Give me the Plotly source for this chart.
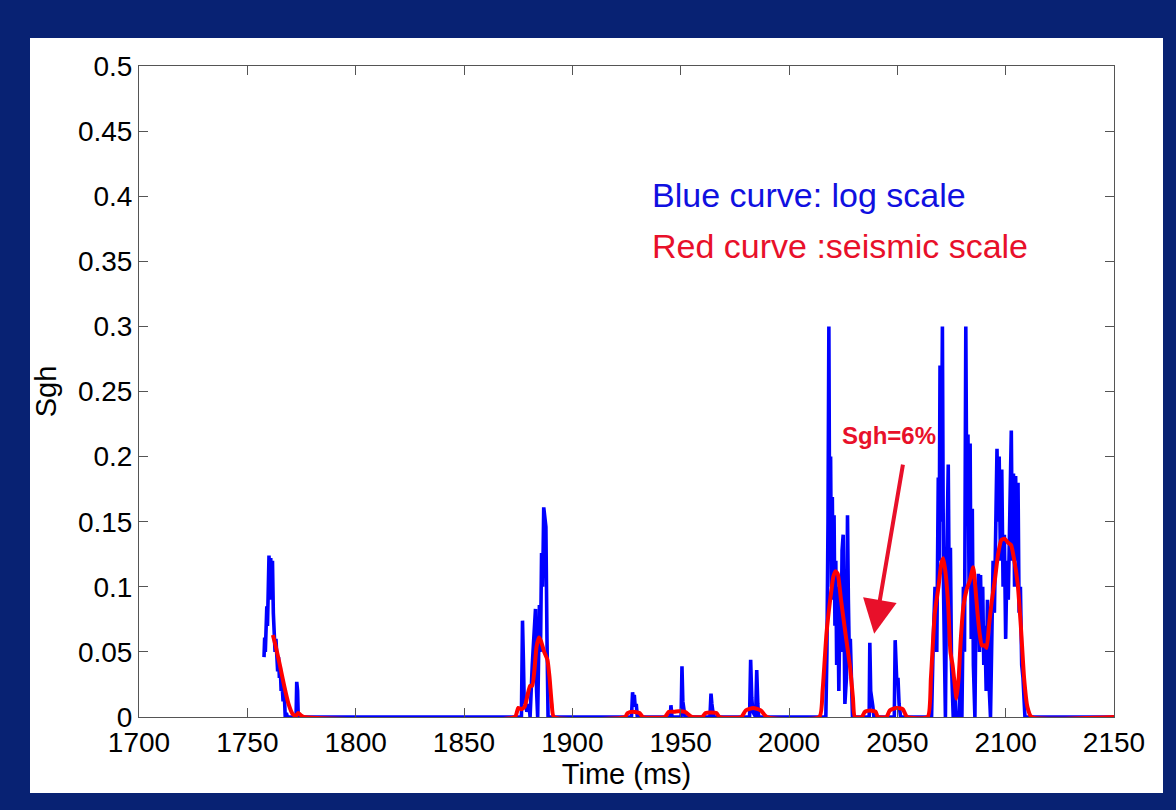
import plotly.graph_objects as go

# ---------------- data ----------------
blue_time = [
    1757.7, 1758.0, 1758.3, 1758.7, 1759.0, 1759.3, 1759.6, 1760.0, 1760.4, 1760.8,
    1761.2, 1761.6, 1762.0, 1762.4, 1762.8, 1763.2, 1763.6, 1764.0, 1764.4, 1764.8,
    1765.2, 1765.6, 1766.0, 1766.5, 1767.0, 1767.5, 1768.0, 1768.5, 1772.5, 1772.8,
    1773.2, 1773.5,
    1876.5, 1877.0, 1877.4, 1877.8, 1878.3, 1879.0, 1880.0, 1880.5, 1881.5, 1882.2,
    1883.0, 1883.5, 1884.0, 1884.8, 1885.3, 1885.8, 1886.3, 1886.8, 1887.3, 1887.8,
    1888.3, 1888.8,
    1927.3, 1927.8, 1928.2, 1928.6, 1929.0, 1929.5, 1930.0,
    1945.2, 1945.5, 1946.0, 1950.2, 1950.6, 1951.0, 1951.4, 1952.0,
    1963.5, 1964.0, 1964.4, 1964.8, 1965.2,
    1981.8, 1982.3, 1982.8, 1983.3, 1984.6, 1985.1, 1985.6, 1986.0,
    2017.0, 2017.5, 2018.0, 2018.4, 2018.8, 2019.2, 2019.6, 2020.0, 2020.4, 2020.8,
    2021.2, 2021.6, 2022.0, 2022.5, 2023.0, 2023.5, 2024.0, 2024.5, 2025.0, 2025.4,
    2025.8, 2026.5, 2027.0, 2027.4, 2027.8, 2028.3, 2028.8, 2029.3,
    2037.0, 2037.3, 2037.7, 2038.2, 2038.7, 2039.2,
    2048.6, 2049.0, 2049.4, 2049.8, 2050.3, 2050.8, 2051.5,
    2065.8, 2066.6, 2067.4, 2068.2, 2068.9, 2069.3, 2069.7, 2070.2, 2070.8, 2071.3,
    2071.8, 2072.2, 2072.8, 2073.5, 2074.0, 2074.5, 2075.0, 2075.8, 2076.5, 2077.0,
    2078.5, 2079.2, 2079.8, 2080.5, 2081.0, 2081.6, 2082.1, 2082.6, 2083.1, 2083.6,
    2084.1, 2084.6, 2085.1, 2085.8, 2086.4, 2086.9, 2087.4, 2087.9, 2088.4, 2088.9,
    2089.4, 2089.9, 2090.4, 2091.0, 2091.6, 2092.2, 2093.0, 2093.6, 2094.2, 2094.8,
    2095.4, 2096.0, 2096.5, 2097.0, 2097.6, 2098.2, 2098.8, 2099.4, 2100.0, 2100.6,
    2101.2, 2101.8, 2102.6, 2103.1, 2103.6, 2104.1, 2104.6, 2105.2, 2105.7, 2106.2,
    2106.8, 2107.4, 2108.0, 2108.9, 2150.0,
]
blue_sgh = [
    0.046, 0.061, 0.050, 0.075, 0.085, 0.070, 0.095, 0.124, 0.090, 0.122,
    0.100, 0.120, 0.080, 0.055, 0.050, 0.060, 0.046, 0.035, 0.046, 0.030,
    0.038, 0.020, 0.026, 0.012, 0.020, 0.000, 0.003, 0.000, 0.000, 0.027,
    0.020, 0.000,
    0.000, 0.074, 0.045, 0.010, 0.012, 0.004, 0.010, 0.000, 0.040, 0.060,
    0.083, 0.020, 0.000, 0.086, 0.050, 0.126, 0.100, 0.161, 0.155, 0.146,
    0.060, 0.000,
    0.000, 0.019, 0.012, 0.017, 0.008, 0.010, 0.000,
    0.000, 0.009, 0.000, 0.000, 0.039, 0.012, 0.005, 0.000,
    0.000, 0.018, 0.010, 0.004, 0.000,
    0.000, 0.044, 0.015, 0.004, 0.000, 0.036, 0.010, 0.000,
    0.000, 0.050, 0.150, 0.300, 0.120, 0.200, 0.100, 0.169, 0.090, 0.155,
    0.070, 0.120, 0.040, 0.100, 0.020, 0.080, 0.050, 0.128, 0.140, 0.060,
    0.010, 0.030, 0.155, 0.090, 0.050, 0.060, 0.020, 0.000,
    0.000, 0.057, 0.020, 0.010, 0.008, 0.000,
    0.000, 0.059, 0.030, 0.025, 0.030, 0.010, 0.000,
    0.000, 0.060, 0.100, 0.050, 0.184, 0.120, 0.270, 0.150, 0.300, 0.100,
    0.040, 0.000, 0.120, 0.194, 0.080, 0.130, 0.040, 0.000, 0.020, 0.000,
    0.000, 0.050, 0.000, 0.100, 0.050, 0.300, 0.150, 0.217, 0.100, 0.210,
    0.060, 0.160, 0.040, 0.000, 0.100, 0.060, 0.110, 0.050, 0.109, 0.060,
    0.100, 0.040, 0.070, 0.020, 0.090, 0.030, 0.000, 0.050, 0.120, 0.080,
    0.170, 0.206, 0.150, 0.200, 0.120, 0.190, 0.100, 0.140, 0.060, 0.120,
    0.090, 0.160, 0.220, 0.120, 0.187, 0.100, 0.185, 0.120, 0.180, 0.080,
    0.100, 0.040, 0.030, 0.000, 0.000,
]

red_time = [
    1761.8, 1763.0, 1765.0, 1767.0, 1769.0, 1771.0, 1772.5, 1773.5, 1775.0, 1776.0,
    1873.5, 1875.0, 1876.5, 1878.0, 1879.5, 1880.5, 1881.5, 1882.5, 1883.5, 1884.6,
    1885.6, 1887.0, 1888.5, 1889.5, 1890.5, 1891.5,
    1924.3, 1925.5, 1928.0, 1931.0, 1932.6,
    1942.7, 1944.5, 1947.0, 1949.0, 1952.0, 1955.2,
    1959.8, 1961.5, 1964.0, 1966.5, 1968.0,
    1978.0, 1980.0, 1983.5, 1987.0, 1989.8,
    2014.0, 2015.5, 2017.3, 2019.0, 2020.5, 2021.5, 2022.5, 2024.0, 2026.0, 2028.2,
    2029.5, 2030.4,
    2033.6, 2035.0, 2037.5, 2040.0, 2041.0,
    2045.0, 2046.5, 2049.5, 2052.5, 2054.5,
    2064.0, 2065.5, 2067.3, 2069.0, 2070.3, 2071.2, 2072.3, 2073.5, 2074.5, 2075.5,
    2076.5, 2077.3, 2078.3, 2079.3, 2080.5, 2082.0, 2083.5, 2085.0, 2086.0, 2087.0,
    2088.0, 2089.0, 2090.2, 2091.2, 2092.3, 2093.5, 2095.0, 2096.5, 2098.0, 2099.5,
    2101.0, 2102.5, 2104.0, 2105.5, 2107.0, 2108.5, 2110.0, 2111.9, 2150.0,
]
red_sgh = [
    0.063, 0.055, 0.040, 0.024, 0.010, 0.002, 0.001, 0.003, 0.001, 0.000,
    0.000, 0.007, 0.006, 0.008, 0.018, 0.024, 0.024, 0.036, 0.054, 0.061,
    0.058, 0.050, 0.044, 0.030, 0.010, 0.000,
    0.000, 0.003, 0.004, 0.003, 0.000,
    0.000, 0.004, 0.004, 0.0045, 0.004, 0.000,
    0.000, 0.003, 0.0035, 0.003, 0.000,
    0.000, 0.005, 0.007, 0.005, 0.000,
    0.000, 0.020, 0.064, 0.090, 0.108, 0.112, 0.110, 0.090, 0.065, 0.038,
    0.015, 0.000,
    0.000, 0.004, 0.005, 0.004, 0.000,
    0.000, 0.005, 0.007, 0.006, 0.000,
    0.000, 0.030, 0.080, 0.100, 0.118, 0.122, 0.110, 0.085, 0.050, 0.040,
    0.025, 0.014, 0.030, 0.060, 0.085, 0.098, 0.105, 0.115, 0.100, 0.080,
    0.064, 0.055, 0.055, 0.053, 0.070, 0.088, 0.105, 0.125, 0.136, 0.137,
    0.134, 0.132, 0.120, 0.103, 0.070, 0.030, 0.008, 0.000, 0.000,
]

x_ticks = [1700, 1750, 1800, 1850, 1900, 1950, 2000, 2050, 2100, 2150]
y_ticks = [0, 0.05, 0.1, 0.15, 0.2, 0.25, 0.3, 0.35, 0.4, 0.45, 0.5]
y_tick_labels = ["0", "0.05", "0.1", "0.15", "0.2", "0.25", "0.3", "0.35", "0.4", "0.45", "0.5"]

# ---------------- figure ----------------
FONT = "Liberation Sans, Arial, sans-serif"
NAVY = "#082273"

fig = go.Figure()
fig.add_trace(go.Scatter(x=blue_time, y=blue_sgh, mode="lines",
                         line=dict(color="#0000ff", width=3.6), name="log scale",
                         showlegend=False))
fig.add_trace(go.Scatter(x=red_time, y=red_sgh, mode="lines",
                         line=dict(color="#ff0000", width=4, shape="spline", smoothing=0.5),
                         name="seismic scale", showlegend=False))

W, H = 1176, 810
ml, mr, mt, mb = 139, 62, 66, 93
pw, ph = W - ml - mr, H - mt - mb

def px_to_paper_x(px):
    return (px - ml) / pw

def py_to_paper_y(py):
    return (H - mb - py) / ph

# white panel on navy background
fig.add_shape(type="rect", xref="paper", yref="paper", layer="below",
              x0=px_to_paper_x(30), x1=px_to_paper_x(1163),
              y0=py_to_paper_y(793), y1=py_to_paper_y(38),
              fillcolor="white", line=dict(width=0))

axis_common = dict(showgrid=False, zeroline=False, ticks="inside", ticklen=9,
                   tickcolor="#555555", linecolor="#555555", linewidth=1,
                   mirror="ticks", showline=True,
                   tickfont=dict(family=FONT, size=28, color="black"))

fig.update_xaxes(range=[1700, 2150], tickvals=x_ticks,
                 title=dict(text="Time (ms)", font=dict(family=FONT, size=29, color="black"),
                            standoff=2),
                 **axis_common)
fig.update_yaxes(range=[0, 0.5], tickvals=y_ticks, ticktext=y_tick_labels,
                 title=dict(text="Sgh", font=dict(family=FONT, size=29, color="black"),
                            standoff=12),
                 **axis_common)

fig.add_annotation(x=1935.8, y=0.401, xref="x", yref="y", text="Blue curve: log scale",
                   showarrow=False, xanchor="left", yanchor="middle",
                   font=dict(family=FONT, size=34, color="#1010e0"))
fig.add_annotation(x=1935.8, y=0.362, xref="x", yref="y", text="Red curve :seismic scale",
                   showarrow=False, xanchor="left", yanchor="middle",
                   font=dict(family=FONT, size=34, color="#e8102a"))
fig.add_annotation(x=2046.0, y=0.216, xref="x", yref="y", text="<b>Sgh=6%</b>",
                   showarrow=False, xanchor="center", yanchor="middle",
                   font=dict(family=FONT, size=24, color="#e8102a"))
fig.add_annotation(x=2039.3, y=0.064, ax=2052.7, ay=0.195, xref="x", yref="y",
                   axref="x", ayref="y", text="", showarrow=True,
                   arrowhead=2, arrowsize=1.7, arrowwidth=4, arrowcolor="#e8102a")

fig.update_layout(width=W, height=H, margin=dict(l=ml, r=mr, t=mt, b=mb),
                  paper_bgcolor=NAVY, plot_bgcolor="white",
                  font=dict(family=FONT))

fig.write_html("out.html")
